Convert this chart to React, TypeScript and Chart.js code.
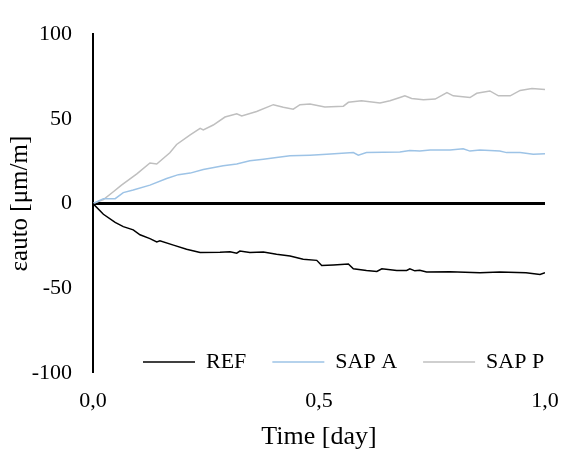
import React, { useEffect, useRef } from 'react';
import { Chart, registerables } from 'chart.js';

Chart.register(...registerables);

// ---- Data ----
const REF_TIME = [0, 0.023, 0.049, 0.067, 0.089, 0.104, 0.126, 0.141, 0.148, 0.178, 0.207, 0.237, 0.281, 0.303, 0.318, 0.325, 0.347, 0.377, 0.406, 0.436, 0.465, 0.495, 0.506, 0.532, 0.565, 0.576, 0.605, 0.628, 0.639, 0.672, 0.694, 0.701, 0.712, 0.723, 0.738, 0.790, 0.856, 0.900, 0.958, 0.989, 1.0];
const REF_VALUES = [0, -6.3, -11.1, -13.6, -15.5, -18.4, -20.7, -22.6, -22, -24.5, -27, -28.9, -28.7, -28.4, -29.3, -28, -28.9, -28.6, -29.9, -30.9, -32.8, -33.5, -36.6, -36.2, -35.6, -38.5, -39.5, -40.1, -38.5, -39.5, -39.5, -38.5, -39.7, -39.3, -40.4, -40.2, -40.8, -40.4, -40.8, -41.8, -40.8];

const SAPA_TIME = [0, 0.023, 0.049, 0.067, 0.089, 0.126, 0.163, 0.189, 0.215, 0.244, 0.288, 0.318, 0.347, 0.377, 0.406, 0.436, 0.480, 0.517, 0.576, 0.587, 0.605, 0.679, 0.701, 0.723, 0.746, 0.790, 0.819, 0.834, 0.856, 0.900, 0.915, 0.945, 0.974, 1.0];
const SAPA_VALUES = [0, 2.9, 2.9, 6.5, 8, 10.9, 14.8, 17.1, 18, 20.1, 22.4, 23.4, 25.3, 26.2, 27.2, 28.2, 28.6, 29.1, 30.1, 28.6, 30.1, 30.5, 31.4, 31, 31.6, 31.6, 32.4, 31, 31.6, 31, 30.1, 30.1, 29.1, 29.5];

const SAPP_TIME = [0, 0.023, 0.045, 0.063, 0.097, 0.126, 0.141, 0.170, 0.185, 0.215, 0.237, 0.244, 0.266, 0.292, 0.318, 0.329, 0.362, 0.399, 0.421, 0.443, 0.458, 0.480, 0.513, 0.554, 0.565, 0.594, 0.635, 0.657, 0.679, 0.690, 0.705, 0.731, 0.757, 0.783, 0.797, 0.834, 0.849, 0.878, 0.897, 0.923, 0.945, 0.971, 1.0];
const SAPP_VALUES = [0, 2.3, 7, 10.9, 17.6, 24, 23.4, 30, 34.9, 40.6, 44.4, 43.5, 46.4, 51.1, 53, 51.7, 54.4, 58.4, 56.9, 55.7, 58.4, 58.8, 57, 57.5, 59.8, 60.7, 59.4, 60.7, 62.6, 63.6, 62.1, 61.3, 61.7, 65.5, 63.6, 62.6, 65.1, 66.5, 63.6, 63.6, 66.8, 68, 67.4];

const SERIES_NAMES = ['REF', 'SAP A', 'SAP P'];
const SERIES_COLORS = ['#000000', '#9DC3E6', '#BFBFBF'];

const X_TICKS = [0, 0.5, 1.0];
const Y_TICKS = [-100, -50, 0, 50, 100];
const X_TITLE = 'Time [day]';
const Y_TITLE = 'εauto [μm/m]';

const FONT = 'Liberation Serif';

const toPoints = (xs: number[], ys: number[]) => xs.map((x, i) => ({ x, y: ys[i] }));

// Places the library's legend inside the plot area (bottom), like the reference.
const legendInside = {
  id: 'legendInside',
  beforeLayout(chart: any) {
    const lg = chart.legend;
    if (lg && !lg.__patched) {
      const origFit = lg.fit;
      lg.fit = function () {
        origFit.call(this);
        this.__h = this.height;
        this.height = 0;
      };
      lg.__patched = true;
    }
  },
  afterLayout(chart: any) {
    const lg = chart.legend;
    if (!lg) return;
    const ca = chart.chartArea;
    const pad = lg.options.labels.padding;
    const fs = 22;
    const h = lg.__h || 0;
    lg.left = ca.left + 50 - pad;
    lg.right = chart.width + 200;
    lg.width = lg.right - lg.left;
    lg.top = ca.bottom - 11 - fs / 2 - pad;
    lg.bottom = lg.top + h;
    lg.height = h;
  },
};

export default function App() {
  const canvasRef = useRef<HTMLCanvasElement | null>(null);

  useEffect(() => {
    document.body.style.margin = '0';
    const canvas = canvasRef.current;
    if (!canvas) return;

    const seriesData = [
      toPoints(REF_TIME, REF_VALUES),
      toPoints(SAPA_TIME, SAPA_VALUES),
      toPoints(SAPP_TIME, SAPP_VALUES),
    ];

    const chart = new Chart(canvas, {
      type: 'line',
      data: {
        datasets: SERIES_NAMES.map((name, i) => ({
          label: name,
          data: seriesData[i],
          borderColor: SERIES_COLORS[i],
          backgroundColor: SERIES_COLORS[i],
          borderWidth: 1.5,
          pointRadius: 0,
          pointBorderWidth: 1.5,
          tension: 0,
          fill: false,
        })),
      },
      options: {
        responsive: false,
        animation: false,
        events: [],
        layout: { padding: { left: 0, top: 25, right: 16, bottom: 0 } },
        plugins: {
          tooltip: { enabled: false },
          legend: {
            display: true,
            position: 'bottom',
            align: 'start',
            labels: {
              usePointStyle: true,
              pointStyle: 'line',
              pointStyleWidth: 52,
              padding: 26,
              color: '#000',
              font: { family: FONT, size: 22 },
            },
          },
        },
        scales: {
          x: {
            type: 'linear',
            min: 0,
            max: 1,
            afterBuildTicks: (scale: any) => {
              scale.ticks = X_TICKS.map((v) => ({ value: v }));
            },
            afterFit: (scale: any) => {
              scale.height = 79;
              scale.paddingLeft = 0;
              scale.paddingRight = 0;
            },
            grid: { display: false, drawTicks: false },
            border: { display: false },
            ticks: {
              color: '#000',
              font: { family: FONT, size: 22 },
              padding: 15,
              maxRotation: 0,
              autoSkip: false,
              callback: (v: any) => Number(v).toFixed(1).replace('.', ','),
            },
            title: {
              display: true,
              text: X_TITLE,
              color: '#000',
              font: { family: FONT, size: 26 },
              padding: { top: 0, bottom: -1 },
            },
          },
          y: {
            type: 'linear',
            min: -100,
            max: 100,
            afterBuildTicks: (scale: any) => {
              scale.ticks = Y_TICKS.map((v) => ({ value: v }));
            },
            afterFit: (scale: any) => {
              scale.width = 93;
            },
            grid: {
              drawTicks: false,
              color: (ctx: any) => (ctx.tick && ctx.tick.value === 0 ? '#000000' : 'rgba(0,0,0,0)'),
              lineWidth: (ctx: any) => (ctx.tick && ctx.tick.value === 0 ? 3 : 0),
            },
            border: { display: true, color: '#000000', width: 2 },
            ticks: {
              color: '#000',
              font: { family: FONT, size: 22 },
              padding: 21,
              autoSkip: false,
              callback: (v: any) => String(v),
            },
            title: {
              display: true,
              text: Y_TITLE,
              color: '#000',
              font: { family: FONT, size: 25 },
              padding: { top: 5, bottom: 0 },
            },
          },
        },
      },
      plugins: [legendInside],
    } as any);

    return () => {
      chart.destroy();
    };
  }, []);

  return (
    <div style={{ width: 561, height: 452 }}>
      <canvas ref={canvasRef} width={561} height={452} style={{ display: 'block' }} />
    </div>
  );
}
